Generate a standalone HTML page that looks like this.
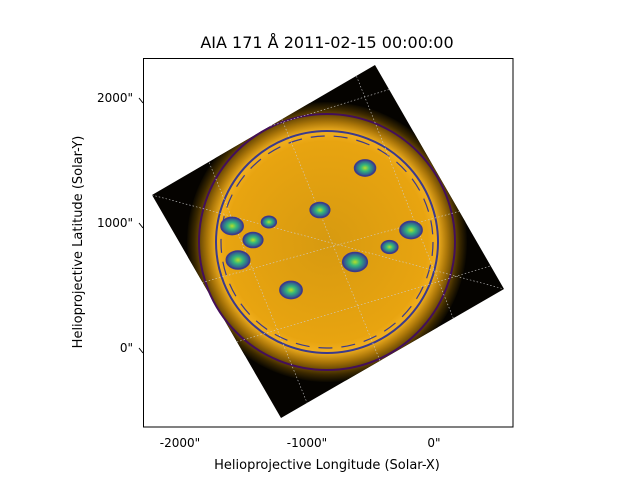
<!DOCTYPE html>
<html><head><meta charset="utf-8"><style>
body{margin:0;background:#fff;width:640px;height:480px;overflow:hidden}
text{font-family:"DejaVu Sans","Liberation Sans",sans-serif;fill:#000}
</style></head><body>
<svg id="chart" width="640" height="480" viewBox="0 0 640 480" xmlns="http://www.w3.org/2000/svg">
<defs>
<radialGradient id="glow" cx="327" cy="242" r="140" gradientUnits="userSpaceOnUse">
<stop offset="0" stop-color="#d79a10"/>
<stop offset="0.72" stop-color="#e8a410"/>
<stop offset="0.79" stop-color="#f2b020"/>
<stop offset="0.86" stop-color="#a87408"/>
<stop offset="0.95" stop-color="#3a2800"/>
<stop offset="1" stop-color="#0a0700"/>
</radialGradient>
<radialGradient id="ar" cx="0.5" cy="0.5" r="0.5">
<stop offset="0" stop-color="#b5de2b"/>
<stop offset="0.4" stop-color="#35b779"/>
<stop offset="0.8" stop-color="#31688e"/>
<stop offset="1" stop-color="#443983"/>
</radialGradient>
<clipPath id="sq"><polygon points="375,65 504,289 281,418 152,195"/></clipPath>
</defs>
<text x="327" y="48" text-anchor="middle" font-size="16">AIA 171 Å 2011-02-15 00:00:00</text>
<g id="map">
<polygon points="375,65 504,289 281,418 152,195" fill="#050300"/>
<circle cx="327" cy="242" r="140" fill="url(#glow)" clip-path="url(#sq)"/>
<circle cx="327" cy="242" r="128" fill="none" stroke="#440f59" stroke-width="2"/>
<circle cx="327" cy="242" r="111" fill="none" stroke="#3b3a8c" stroke-width="2"/>
<circle cx="327" cy="242" r="106" fill="none" stroke="#3b3a8c" stroke-width="1.2" stroke-dasharray="14 9"/>
</g>
<g id="grid" stroke="#ccc" stroke-width="0.6" stroke-dasharray="1.5 2" fill="none" clip-path="url(#sq)">
<line x1="152" y1="195" x2="504" y2="289" transform="rotate(0)"/>
<line x1="160" y1="160" x2="420" y2="80"/>
<line x1="175" y1="290" x2="500" y2="200"/>
<line x1="210" y1="350" x2="510" y2="260"/>
<line x1="270" y1="90" x2="400" y2="410"/>
<line x1="350" y1="60" x2="470" y2="360"/>
<line x1="200" y1="140" x2="310" y2="410"/>
</g>
<g id="regions"></g>
<rect x="143.5" y="58.5" width="369.5" height="368.5" fill="none" stroke="#000" stroke-width="1"/>
<g id="axes"></g>
<text x="327" y="469" text-anchor="middle" font-size="13">Helioprojective Longitude (Solar-X)</text>
<text transform="translate(82,242) rotate(-90)" text-anchor="middle" font-size="13">Helioprojective Latitude (Solar-Y)</text>
</svg>
<script>
const xTicks=[-2000,-1000,0];
const xTickLabels=['-2000"','-1000"','0"'];
const yTicks=[0,1000,2000];
const yTickLabels=['0"','1000"','2000"'];
const regionX=[-1590,-1543,-1126,-622,-181,-543,-898,-1425,-350,-1300];
const regionY=[968,696,456,680,936,1432,1096,856,800,1000];
const regionSize=[900,1000,900,1100,900,800,700,700,500,400];
const NS='http://www.w3.org/2000/svg';
function px(x){return 434+x*0.127;}
function py(y){return 347-y*0.125;}
const axes=document.getElementById('axes');
xTicks.forEach((v,i)=>{
 const t=document.createElementNS(NS,'text');
 t.setAttribute('x',px(v));t.setAttribute('y',447);t.setAttribute('text-anchor','middle');t.setAttribute('font-size','12');
 t.textContent=xTickLabels[i];
 
 
 axes.appendChild(t);
});
yTicks.forEach((v,i)=>{
 const t=document.createElementNS(NS,'text');
 t.setAttribute('x',133);t.setAttribute('y',py(v)+5);t.setAttribute('text-anchor','end');t.setAttribute('font-size','12');
 t.textContent=yTickLabels[i];
 
 
 axes.appendChild(t);
 const l=document.createElementNS(NS,'line');
 l.setAttribute('x1',139);l.setAttribute('x2',143);l.setAttribute('y1',py(v)+1);l.setAttribute('y2',py(v)+6);l.setAttribute('stroke','#000');
 
 
 axes.appendChild(l);
});
const reg=document.getElementById('regions');
regionX.forEach((x,i)=>{
 const r=Math.sqrt(regionSize[i])/3.5;
 const o=document.createElementNS(NS,'ellipse');
 o.setAttribute('cx',px(x));o.setAttribute('cy',py(regionY[i]));o.setAttribute('rx',r*1.3);o.setAttribute('ry',r);
 o.setAttribute('fill','url(#ar)');o.setAttribute('stroke','#3b3a8c');o.setAttribute('stroke-width','1.5');
 
 
 reg.appendChild(o);
});
</script>
</body></html>
